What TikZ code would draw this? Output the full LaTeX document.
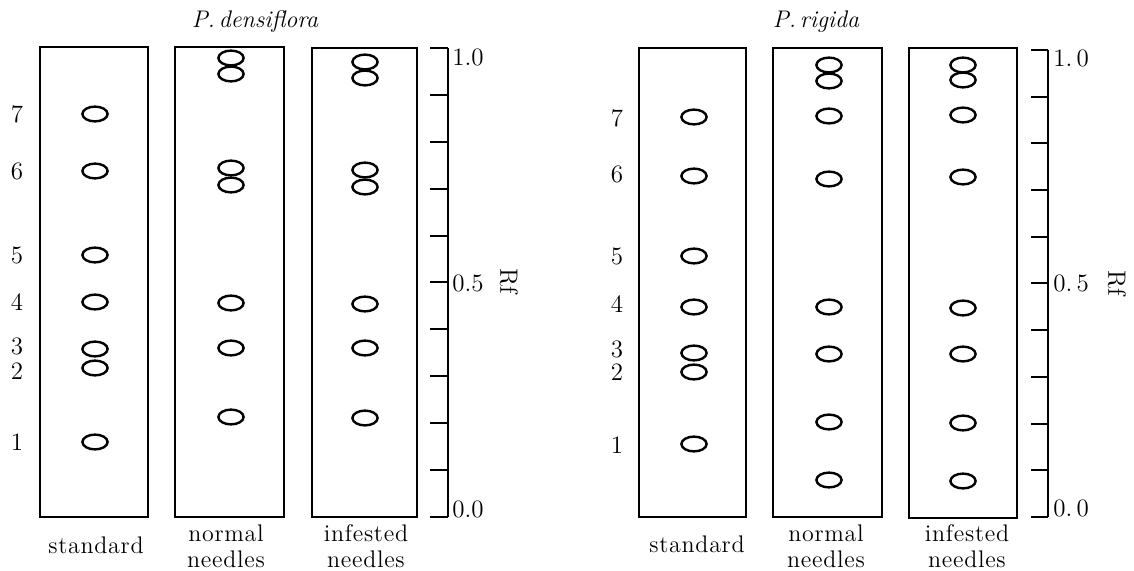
\documentclass[tikz,border=0pt]{standalone}
\usepackage{fontspec}
\setmainfont{Latin Modern Roman}
\usetikzlibrary{shapes.geometric}
\begin{document}
\begin{tikzpicture}[x=0.5pt,y=-0.5pt,
  lane/.style={line width=1pt},
  tick/.style={line width=1pt},
  spot/.style={ellipse, draw, line width=1.2pt, minimum width=12.6pt,
    minimum height=7.4pt, inner sep=0pt},
  txt/.style={font=\fontsize{12}{13}\selectfont\addfontfeature{LetterSpace=3}, inner sep=0pt},
  num/.style={font=\fontsize{12.5}{14}\selectfont, inner sep=0pt},
  title/.style={font=\fontsize{12}{14}\selectfont\itshape, inner sep=0pt}]
\useasboundingbox (0,0) rectangle (1134,571);

% ---------- P. densiflora ----------
\node[title] (tdens) at (255,22) {P.\,densiflora};
\draw[lane] (40,47) rectangle (148,517);
\draw[lane] (175,47) rectangle (284,517);
\draw[lane] (312,48) rectangle (417,517);

% reference spots 1..7
\foreach \y [count=\i] in {442,368,349,302,255,171,114}
  \node[spot] (ds\i) at (95,\y) {};
\foreach \y/\n in {442/1,371/2,346/3,302/4,255/5,171/6,114/7}
  \node[num] (dn\n) at (17,\y) {\n};
% normal needles
\foreach \y [count=\i] in {417,348,303,185,168,74,58}
  \node[spot] (dnn\i) at (231,\y) {};
% infested needles
\foreach \y [count=\i] in {418,348,304,187,170,78,62}
  \node[spot] (din\i) at (365,\y) {};

% Rf scale
\draw[tick] (448,48) -- (448,517);
\foreach \k in {0,...,10}
  \draw[tick] (430,{48+46.9*\k}) -- (448,{48+46.9*\k});
\node[num, anchor=north west] (d10) at (452,48) {1.0};
\node[num, anchor=west] (d05) at (452,283) {0.5};
\node[num, anchor=south west] (d00) at (452,518) {0.0};
\node[num, rotate=-90] (drf) at (509,281) {Rf};

\node[txt] (dstd) at (96,545) {standard};
\node[txt, align=center] (dnorm) at (226,546) {normal\\needles};
\node[txt, align=center] (dinf) at (366,546) {infested\\needles};

% ---------- P. rigida ----------
\node[title] (trig) at (816,22) {P.\,rigida};
\draw[lane] (639,48) rectangle (746,517);
\draw[lane] (773,48) rectangle (882,517);
\draw[lane] (909,48) rectangle (1017,518);

\foreach \y [count=\i] in {444,372,353,307,256,176,117}
  \node[spot] (rs\i) at (694,\y) {};
\foreach \y/\n in {445/1,372/2,349/3,304/4,256/5,174/6,118/7}
  \node[num] (rn\n) at (617,\y) {\n};
\foreach \y [count=\i] in {480,422,354,307,179,116,81,65}
  \node[spot] (rnn\i) at (829,\y) {};
\foreach \y [count=\i] in {481,423,354,308,177,115,80,65}
  \node[spot] (rin\i) at (963,\y) {};

\draw[tick] (1048,50) -- (1048,517);
\foreach \k in {0,...,10}
  \draw[tick] (1031,{50+46.7*\k}) -- (1048,{50+46.7*\k});
\node[num, anchor=north west] (r10) at (1053,49) {1.\,0};
\node[num, anchor=west] (r05) at (1053,283) {0.\,5};
\node[num, anchor=south west] (r00) at (1053,517) {0.\,0};
\node[num, rotate=-90] (rrf) at (1117,283) {Rf};

\node[txt] (rstd) at (697,544) {standard};
\node[txt, align=center] (rnorm) at (826,546) {normal\\needles};
\node[txt, align=center] (rinf) at (967,546) {infested\\needles};
\end{tikzpicture}
\end{document}
